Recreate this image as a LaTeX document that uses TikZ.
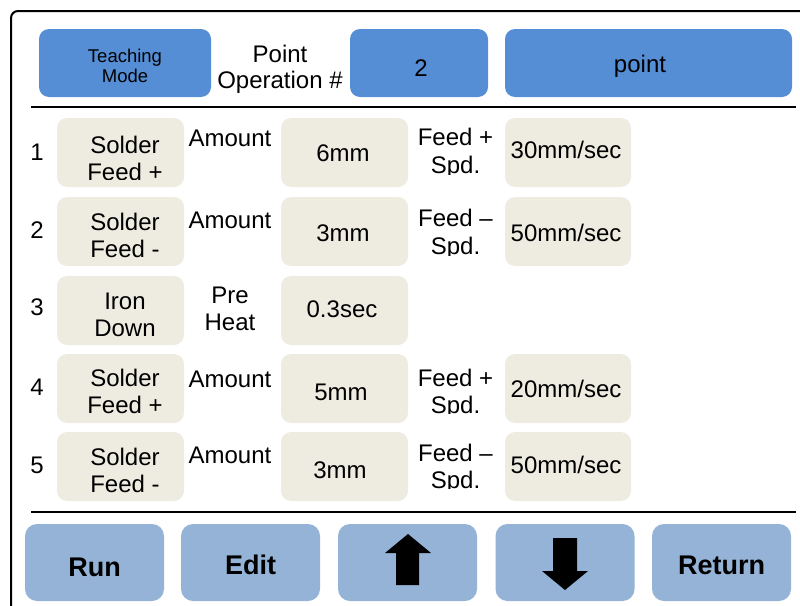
\documentclass[tikz,border=0pt]{standalone}
\usepackage{fontspec}
\setmainfont{Liberation Sans}
\definecolor{topblue}{HTML}{558ED5}
\definecolor{btnblue}{HTML}{95B3D7}
\definecolor{cellbg}{HTML}{EEECE1}
\begin{document}
\begin{tikzpicture}[x=1pt,y=-1pt,
  panel/.style={rectangle,rounded corners=10pt,inner sep=0pt,draw=none},
  topbox/.style={panel,fill=topblue,minimum height=68pt},
  cell/.style={panel,fill=cellbg,minimum width=127pt,minimum height=69pt},
  btn/.style={panel,fill=btnblue,rounded corners=12pt,minimum width=139pt,minimum height=77pt},
  txt/.style={inner sep=0pt,anchor=base,font=\fontsize{24}{27}\selectfont},
  smalltxt/.style={inner sep=0pt,anchor=base,font=\fontsize{18.5}{20}\selectfont},
  btntxt/.style={inner sep=0pt,anchor=base,font=\fontsize{27}{30}\selectfont\bfseries},
  rule/.style={line width=2.2pt},
  arrowshape/.style={fill=black,draw=none}]
\useasboundingbox (0,0) rectangle (800,605);

% outer frame of the screen
\coordinate (fb) at (11,620);
\coordinate (fc) at (11,11);
\coordinate (fr) at (820,11);
\draw[line width=2pt,rounded corners=7pt] (fb) -- (fc) -- (fr);

% header
\node[topbox,minimum width=172pt] (mode) at (125,63) {};
\node[topbox,minimum width=138pt] (pnum) at (419,63) {};
\node[topbox,minimum width=287pt] (pname) at (648.5,63) {};
\node[smalltxt] (modeA) at (125,62) {Teaching};
\node[smalltxt] (modeB) at (125,82) {Mode};
\node[txt] (ptA) at (280,62) {Point};
\node[txt] (ptB) at (280,88) {Operation \#};
\node[txt] (pnumT) at (421,76) {2};
\node[txt] (pnameT) at (640,72) {point};

% dividers
\coordinate (d1l) at (31,107);
\coordinate (d1r) at (796,107);
\coordinate (d2l) at (31,512);
\coordinate (d2r) at (796,512);
\draw[rule] (d1l) -- (d1r);
\draw[rule] (d2l) -- (d2r);

% cells
\foreach \r/\y in {1/152.5,2/231.5,3/310.5,4/388.5,5/466.5}{
  \node[cell] (lab\r) at (120.5,\y) {};
  \node[cell] (val\r) at (344.5,\y) {};
}
\foreach \r/\y in {1/152.5,2/231.5,4/388.5,5/466.5}{
  \node[cell,minimum width=126pt] (spd\r) at (568,\y) {};
}

% row numbers
\node[txt] (n1) at (37,160) {1};
\node[txt] (n2) at (37,238.3) {2};
\node[txt] (n3) at (37,315) {3};
\node[txt] (n4) at (37,395) {4};
\node[txt] (n5) at (37,473) {5};

% step names
\node[txt] (lab1a) at (125,153.3) {Solder};
\begin{scope}
  \clip (57,160) rectangle (184,179);
  \node[txt] (lab1b) at (125,180.5) {Feed +};
\end{scope}
\node[txt] (lab2a) at (125,230) {Solder};
\node[txt] (lab2b) at (125,257.3) {Feed -};
\node[txt] (lab3a) at (125,309.3) {Iron};
\node[txt] (lab3b) at (125,336) {Down};
\node[txt] (lab4a) at (125,386) {Solder};
\node[txt] (lab4b) at (125,413) {Feed +};
\node[txt] (lab5a) at (125,465) {Solder};
\node[txt] (lab5b) at (125,492) {Feed -};

% parameter names
\node[txt] (par1) at (230,146.7) {Amount};
\node[txt] (par2) at (230,228.3) {Amount};
\node[txt] (par3a) at (230,303.3) {Pre};
\node[txt] (par3b) at (230,330.7) {Heat};
\node[txt] (par4) at (230,387) {Amount};
\node[txt] (par5) at (230,463) {Amount};

% parameter values
\node[txt] (v1) at (343,161) {6mm};
\node[txt] (v2) at (343,241.7) {3mm};
\node[txt] (v3) at (342,317.3) {0.3sec};
\node[txt] (v4) at (341,400.7) {5mm};
\node[txt] (v5) at (340,478.3) {3mm};

% speed names
\node[txt] (sp1a) at (455.5,145.7) {Feed +};
\node[txt] (sp2a) at (455.5,226.7) {Feed –};
\node[txt] (sp4a) at (455.5,386) {Feed +};
\node[txt] (sp5a) at (455.5,461) {Feed –};
\begin{scope}
  \clip (420,150) rectangle (500,174);
  \node[txt] (sp1b) at (455.5,173) {Spd.};
\end{scope}
\begin{scope}
  \clip (420,230) rectangle (500,255.3);
  \node[txt] (sp2b) at (455.5,254) {Spd.};
\end{scope}
\begin{scope}
  \clip (420,390) rectangle (500,413.5);
  \node[txt] (sp4b) at (455.5,413) {Spd.};
\end{scope}
\begin{scope}
  \clip (420,465) rectangle (500,488.5);
  \node[txt] (sp5b) at (455.5,488) {Spd.};
\end{scope}

% speed values
\node[txt] (s1) at (566,158.3) {30mm/sec};
\node[txt] (s2) at (566,241) {50mm/sec};
\node[txt] (s4) at (566,397) {20mm/sec};
\node[txt] (s5) at (566,473) {50mm/sec};

% bottom buttons
\node[btn] (run) at (94.5,562.5) {};
\node[btn] (edit) at (250.5,562.5) {};
\node[btn] (up) at (407.5,562.5) {};
\node[btn] (down) at (565,562.5) {};
\node[btn] (ret) at (721.5,562.5) {};
\node[btntxt] (runT) at (94.5,576) {Run};
\node[btntxt] (editT) at (250.5,574) {Edit};
\node[btntxt] (retT) at (721.7,574) {Return};

% arrow glyphs
\fill[arrowshape] (408,534) -- (431,553) -- (419,553) -- (419,585)
  -- (396,585) -- (396,553) -- (385,553) -- cycle;
\fill[arrowshape] (565,590) -- (588,571) -- (577,571) -- (577,538)
  -- (553,538) -- (553,571) -- (542,571) -- cycle;
\end{tikzpicture}
\end{document}
